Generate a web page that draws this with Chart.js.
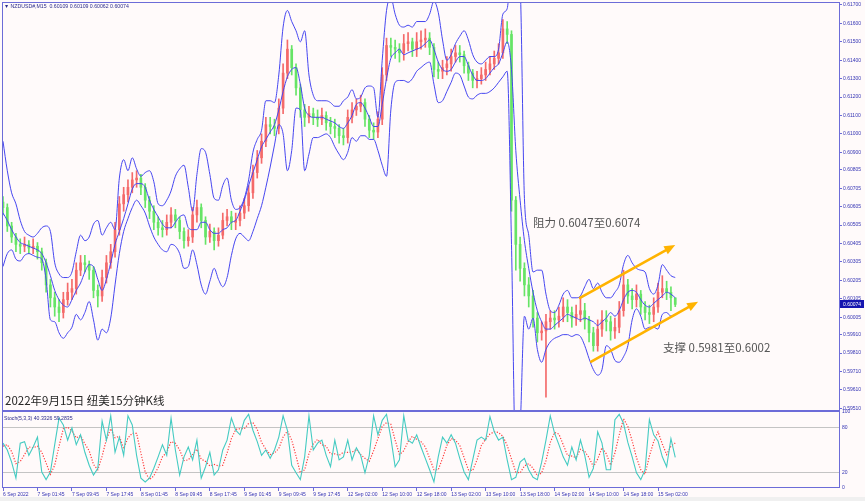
<!DOCTYPE html>
<html><head><meta charset="utf-8">
<script src="https://cdn.jsdelivr.net/npm/chart.js@4"></script>
<style>
html,body{margin:0;padding:0;background:#fffafa;}
#wrap{position:relative;width:865px;height:501px;overflow:hidden;background:#fffafa;}
canvas{position:absolute;left:0;}
#c1{top:0;}
#c2{top:403px;}
.t{position:absolute;white-space:nowrap;z-index:5;}
.hdr{font-family:"Liberation Sans",Arial,sans-serif;font-size:5.2px;line-height:6px;color:#2c2c8c;}
.cn{font-family:"Noto Sans CJK SC",sans-serif;font-size:11.5px;line-height:12px;}
#strip{position:absolute;left:0;top:497px;width:865px;height:4px;background:#f0f0f0;}
</style></head>
<body><div id="wrap">
<div id="strip"></div>
<canvas id="c1" width="865" height="411" style="width:865px;height:411px"></canvas>
<canvas id="c2" width="865" height="98" style="width:865px;height:98px"></canvas>
<div class="t hdr" style="left:4px;top:3px">▼ NZDUSD#,M15&nbsp; 0.60109 0.60109 0.60062 0.60074</div>
<div class="t hdr" style="left:4px;top:415px">Stoch(5,3,3) 40.3326 59.2835</div>
<div class="t cn" style="left:5px;top:394px;color:#262626">2022年9月15日 纽美15分钟K线</div>
<div class="t cn" style="left:533px;top:216px;color:#555">阻力 0.6047至0.6074</div>
<div class="t cn" style="left:663px;top:341px;color:#555">支撑 0.5981至0.6002</div>
</div>
<script>
// ---- data (hourly aggregation of the M15 chart) ----
const xTickLabels = ['6 Sep 2022','7 Sep 01:45','7 Sep 09:45','7 Sep 17:45','8 Sep 01:45','8 Sep 09:45','8 Sep 17:45','9 Sep 01:45','9 Sep 09:45','9 Sep 17:45','12 Sep 02:00','12 Sep 10:00','12 Sep 18:00','13 Sep 02:00','13 Sep 10:00','13 Sep 18:00','14 Sep 02:00','14 Sep 10:00','14 Sep 18:00','15 Sep 02:00'];
const yTickLabels = ['0.59510','0.59610','0.59710','0.59810','0.59910','0.60005','0.60105','0.60205','0.60305','0.60405','0.60505','0.60605','0.60705','0.60805','0.60900','0.61000','0.61100','0.61200','0.61300','0.61400','0.61500','0.61600','0.61700'];
const stochTickLabels = ['0','20','80','100'];
const firstOpen = 0.6063;
const closes = [
0.6060,0.6050,0.6044,0.6040,0.6039,0.6040,0.6038,0.6039,0.6036,0.6030,
0.6018,0.6011,0.6006,0.6003,0.6010,0.6014,0.6016,0.6026,0.6030,0.6029,
0.6026,0.6015,0.6012,0.6022,0.6030,0.6036,0.6048,0.6062,0.6067,0.6071,
0.6075,0.6076,0.6071,0.6064,0.6058,0.6052,0.6049,0.6048,0.6052,0.6056,
0.6053,0.6047,0.6042,0.6044,0.6056,0.6060,0.6053,0.6044,0.6047,0.6042,
0.6045,0.6053,0.6055,0.6052,0.6053,0.6057,0.6061,0.6068,0.6079,0.6087,
0.6096,0.6105,0.6104,0.6103,0.6114,0.6133,0.6146,0.6136,0.6125,0.6113,
0.6109,0.6111,0.6109,0.6108,0.6110,0.6106,0.6104,0.6103,0.6099,0.6098,
0.6109,0.6113,0.6115,0.6117,0.6108,0.6102,0.6101,0.6108,0.6132,0.6148,
0.6147,0.6146,0.6144,0.6149,0.6150,0.6146,0.6150,0.6151,0.6152,0.6147,
0.6135,0.6134,0.6136,0.6138,0.6142,0.6144,0.6143,0.6137,0.6133,0.6129,
0.6130,0.6132,0.6135,0.6138,0.6141,0.6144,0.6157,0.6154,0.6064,0.6040,
0.6027,0.6018,0.6012,0.6000,0.5992,0.5993,0.5998,0.6000,0.5999,0.6001,
0.6006,0.6003,0.6000,0.6002,0.6004,0.5999,0.5992,0.5985,0.5994,0.5999,
0.5998,0.5993,0.5995,0.6004,0.6018,0.6012,0.6010,0.6013,0.6006,0.6003,
0.6002,0.6006,0.6014,0.6016,0.6014,0.6011,0.60074];
const highs = [
0.6066,0.6062,0.6052,0.6046,0.6043,0.6044,0.6042,0.6043,0.6041,0.6038,
0.6032,0.6021,0.6014,0.6010,0.6014,0.6019,0.6021,0.6030,0.6034,0.6034,
0.6031,0.6028,0.6018,0.6026,0.6034,0.6040,0.6052,0.6066,0.6071,0.6075,
0.6079,0.6080,0.6078,0.6073,0.6066,0.6061,0.6055,0.6053,0.6056,0.6060,
0.6059,0.6055,0.6049,0.6048,0.6060,0.6064,0.6062,0.6055,0.6051,0.6049,
0.6049,0.6057,0.6059,0.6058,0.6057,0.6061,0.6065,0.6072,0.6083,0.6091,
0.6100,0.6109,0.6109,0.6108,0.6119,0.6138,0.6151,0.6148,0.6138,0.6127,
0.6116,0.6115,0.6114,0.6113,0.6114,0.6112,0.6109,0.6108,0.6105,0.6103,
0.6113,0.6117,0.6119,0.6121,0.6119,0.6110,0.6106,0.6112,0.6136,0.6152,
0.6152,0.6151,0.6149,0.6154,0.6155,0.6152,0.6155,0.6156,0.6157,0.6155,
0.6149,0.6139,0.6140,0.6142,0.6146,0.6148,0.6148,0.6145,0.6139,0.6135,
0.6134,0.6136,0.6139,0.6142,0.6145,0.6149,0.6162,0.6161,0.6156,0.6066,
0.6044,0.6030,0.6022,0.6015,0.6003,0.5998,0.6002,0.6004,0.6004,0.6006,
0.6011,0.6010,0.6006,0.6007,0.6011,0.6008,0.6001,0.5995,0.5999,0.6004,
0.6004,0.6001,0.6000,0.6009,0.6026,0.6021,0.6016,0.6018,0.6015,0.6009,
0.6007,0.6011,0.6019,0.6023,0.6020,0.6017,0.60109];
const lows = [
0.6056,0.6047,0.6041,0.6036,0.6035,0.6036,0.6035,0.6035,0.6032,0.6026,
0.6014,0.6006,0.6001,0.5998,0.6000,0.6007,0.6010,0.6013,0.6023,0.6025,
0.6021,0.6011,0.6006,0.6009,0.6019,0.6027,0.6033,0.6045,0.6058,0.6063,
0.6068,0.6071,0.6067,0.6060,0.6054,0.6048,0.6045,0.6044,0.6045,0.6049,
0.6049,0.6043,0.6038,0.6039,0.6041,0.6052,0.6049,0.6040,0.6041,0.6037,
0.6039,0.6043,0.6050,0.6048,0.6048,0.6050,0.6054,0.6058,0.6065,0.6076,
0.6084,0.6093,0.6100,0.6099,0.6100,0.6111,0.6130,0.6132,0.6121,0.6109,
0.6104,0.6106,0.6105,0.6104,0.6105,0.6102,0.6100,0.6098,0.6095,0.6094,
0.6095,0.6106,0.6110,0.6112,0.6104,0.6098,0.6097,0.6098,0.6105,0.6129,
0.6142,0.6141,0.6139,0.6140,0.6145,0.6142,0.6142,0.6146,0.6147,0.6143,
0.6131,0.6130,0.6130,0.6132,0.6134,0.6139,0.6139,0.6133,0.6129,0.6125,
0.6125,0.6127,0.6129,0.6132,0.6135,0.6138,0.6141,0.6149,0.6058,0.6026,
0.6020,0.6012,0.6006,0.5995,0.5987,0.5988,0.5957,0.5994,0.5994,0.5995,
0.5998,0.5998,0.5995,0.5996,0.5998,0.5994,0.5987,0.5982,0.5982,0.5990,
0.5993,0.5988,0.5989,0.5992,0.6001,0.6008,0.6005,0.6006,0.6002,0.5999,
0.5997,0.5998,0.6003,0.6011,0.6010,0.6004,0.60062];
const bandUpper = [
0.6096,0.6080,0.6068,0.6062,0.6053,0.6047,0.6045,0.6044,0.6046,0.6049,
0.6050,0.6047,0.6030,0.6024,0.6022,0.6022,0.6025,0.6036,0.6045,0.6042,
0.6044,0.6051,0.6053,0.6045,0.6049,0.6052,0.6048,0.6076,0.6086,0.6080,
0.6087,0.6081,0.6077,0.6079,0.6080,0.6074,0.6062,0.6061,0.6064,0.6069,
0.6077,0.6081,0.6083,0.6071,0.6058,0.6078,0.6092,0.6090,0.6078,0.6065,
0.6064,0.6072,0.6076,0.6064,0.6059,0.6060,0.6065,0.6075,0.6090,0.6097,
0.6102,0.6118,0.6118,0.6117,0.6132,0.6158,0.6167,0.6161,0.6156,0.6150,
0.6156,0.6132,0.6121,0.6118,0.6118,0.6118,0.6117,0.6115,0.6115,0.6118,
0.6120,0.6124,0.6119,0.6120,0.6125,0.6126,0.6125,0.6109,0.6140,0.6167,
0.6174,0.6165,0.6159,0.6158,0.6159,0.6158,0.6161,0.6161,0.6161,0.6165,
0.6172,0.6166,0.6151,0.6140,0.6143,0.6149,0.6153,0.6156,0.6151,0.6143,
0.6139,0.6138,0.6140,0.6142,0.6142,0.6146,0.6165,0.6168,0.6190,0.6190,
0.6180,0.6065,0.6045,0.6025,0.6026,0.6026,0.6013,0.6004,0.6003,0.6007,
0.6013,0.6015,0.6011,0.6011,0.6012,0.6017,0.6021,0.6016,0.6019,0.6014,
0.6011,0.6011,0.6014,0.6018,0.6029,0.6034,0.6030,0.6027,0.6026,0.6025,
0.6016,0.6013,0.6018,0.6029,0.6026,0.6023,0.6022];
const bandMiddle = [
0.6057,0.6053,0.6048,0.6044,0.6041,0.6040,0.6039,0.6038,0.6037,0.6035,
0.6030,0.6023,0.6015,0.6010,0.6007,0.6006,0.6010,0.6015,0.6019,0.6025,
0.6029,0.6028,0.6021,0.6015,0.6021,0.6030,0.6040,0.6047,0.6054,0.6062,
0.6070,0.6073,0.6073,0.6071,0.6064,0.6059,0.6055,0.6051,0.6049,0.6049,
0.6052,0.6055,0.6056,0.6049,0.6048,0.6048,0.6052,0.6052,0.6048,0.6046,
0.6046,0.6048,0.6049,0.6052,0.6053,0.6058,0.6064,0.6072,0.6079,0.6086,
0.6093,0.6097,0.6101,0.6105,0.6113,0.6123,0.6131,0.6135,0.6136,0.6127,
0.6114,0.6110,0.6109,0.6109,0.6109,0.6108,0.6107,0.6106,0.6104,0.6103,
0.6106,0.6110,0.6116,0.6117,0.6114,0.6109,0.6104,0.6104,0.6116,0.6130,
0.6141,0.6144,0.6146,0.6143,0.6144,0.6145,0.6146,0.6147,0.6149,0.6151,
0.6146,0.6139,0.6135,0.6134,0.6135,0.6139,0.6142,0.6142,0.6137,0.6132,
0.6129,0.6129,0.6130,0.6133,0.6136,0.6138,0.6144,0.6150,0.6135,0.6091,
0.6064,0.6042,0.6027,0.6014,0.6004,0.5998,0.5994,0.5994,0.5996,0.5998,
0.6000,0.6002,0.6001,0.6000,0.5999,0.6000,0.5999,0.5998,0.5996,0.5998,
0.6000,0.6003,0.6001,0.6004,0.6010,0.6014,0.6015,0.6014,0.6010,0.6007,
0.6006,0.6008,0.6010,0.6012,0.6014,0.6013,0.6011];
const bandLower = [
0.6028,0.6035,0.6037,0.6032,0.6031,0.6034,0.6035,0.6034,0.6033,0.6032,
0.6021,0.5999,0.5998,0.5992,0.5989,0.5992,0.5995,0.6002,0.5999,0.6003,
0.6009,0.5999,0.5988,0.5994,0.5992,0.6000,0.6018,0.6035,0.6047,0.6054,
0.6060,0.6064,0.6061,0.6057,0.6050,0.6044,0.6040,0.6037,0.6036,0.6040,
0.6039,0.6035,0.6027,0.6028,0.6037,0.6029,0.6018,0.6013,0.6020,0.6027,
0.6021,0.6017,0.6022,0.6034,0.6043,0.6046,0.6044,0.6042,0.6047,0.6054,
0.6061,0.6071,0.6082,0.6094,0.6105,0.6100,0.6080,0.6091,0.6114,0.6113,
0.6080,0.6089,0.6098,0.6098,0.6099,0.6100,0.6098,0.6093,0.6089,0.6086,
0.6090,0.6098,0.6096,0.6099,0.6099,0.6097,0.6097,0.6091,0.6083,0.6077,
0.6113,0.6128,0.6129,0.6129,0.6128,0.6130,0.6134,0.6136,0.6138,0.6139,
0.6127,0.6117,0.6118,0.6123,0.6128,0.6133,0.6132,0.6126,0.6120,0.6119,
0.6121,0.6122,0.6122,0.6123,0.6125,0.6128,0.6131,0.6134,0.6040,0.5920,
0.5940,0.6001,0.5994,0.6000,0.5983,0.5976,0.5983,0.5987,0.5989,0.5990,
0.5991,0.5991,0.5990,0.5991,0.5990,0.5985,0.5978,0.5972,0.5969,0.5972,
0.5985,0.5983,0.5977,0.5976,0.5979,0.5985,0.5999,0.6005,0.6001,0.5994,
0.5995,0.5995,0.5994,0.6002,0.6003,0.6001,0.6002];
const stochK = [
59,50,34,13,59,61,43,54,67,21,
11,21,57,92,83,63,79,57,70,47,
30,17,26,88,63,95,47,67,43,95,
83,43,13,8,13,26,41,57,43,92,
50,17,41,54,37,63,13,28,47,17,
24,50,63,92,76,70,89,97,76,61,
43,50,39,50,67,95,76,30,20,11,
41,95,50,59,63,43,28,63,37,41,
63,37,53,43,20,43,95,70,89,97,
66,28,37,95,63,59,70,54,39,24,
8,41,67,59,70,59,39,21,11,37,
63,67,63,94,74,63,67,37,11,14,
34,39,24,14,11,34,63,95,72,57,
41,30,54,37,63,43,14,26,74,59,
24,24,90,97,85,60,41,20,11,24,
90,70,62,41,28,65,40.3326];
const stochD = [
55,57,48,32,35,44,54,53,55,47,
33,18,30,55,78,80,75,66,69,58,
49,31,24,42,64,78,66,68,52,66,
72,72,46,21,11,16,27,41,47,61,
59,50,36,37,44,51,38,35,29,31,
29,30,46,65,77,78,78,85,86,77,
60,51,44,46,52,67,75,63,42,20,
24,45,58,64,57,55,45,45,43,47,
47,47,51,44,39,35,49,65,81,86,
84,63,44,49,61,68,64,61,54,39,
24,24,39,56,65,63,56,40,24,23,
37,56,64,71,74,73,68,56,38,21,
20,29,32,26,16,20,36,60,73,71,
57,43,42,40,51,48,40,28,38,53,
45,30,46,70,91,81,62,40,24,18,
42,61,74,58,44,55,59.2835];
// trend-channel arrows drawn by hand on the chart, in (bar index, price)
const trendArrows = [
  {from:[133.9,0.60110], to:[156.0,0.60397]},
  {from:[136.5,0.59763], to:[161.3,0.60089]}
];

// ---- build tables ----
const SLOTS = 195;            // hourly slots across the plot incl. right-hand shift
const TICK_EVERY = 8;
const categories = [];
for (let i = 0; i < SLOTS; i++) {
  const k = i / TICK_EVERY;
  categories.push(i % TICK_EVERY === 0 && k < xTickLabels.length ? xTickLabels[k] : '');
}
const opens = [firstOpen].concat(closes.slice(0, -1));
const UP = '#f46a6a', DOWN = '#66e466';
const candleColors = closes.map((c, i) => c >= opens[i] ? UP : DOWN);
const wickData = lows.map((l, i) => [l, highs[i]]);
const bodyData = closes.map((c, i) => [opens[i], c]);

const FRAME = '#6c6cd8';
const AXIS_TXT = '#3434b4';
const BAND = '#4646f0';
const tinyFont = {family: '"Liberation Sans", Arial, sans-serif', size: 5};

const framePlugin = {
  id: 'frame',
  afterDraw(chart) {
    const {ctx, chartArea: a} = chart;
    ctx.save();
    ctx.strokeStyle = FRAME; ctx.lineWidth = 1;
    ctx.strokeRect(a.left - 0.5, a.top - 0.5, a.right - a.left + 1, a.bottom - a.top);
    ctx.restore();
  }
};
const arrowPlugin = {
  id: 'arrows',
  afterDatasetsDraw(chart) {
    const {ctx, scales: {x, y}} = chart;
    ctx.save();
    ctx.strokeStyle = '#ffb300'; ctx.fillStyle = '#ffb300';
    ctx.lineWidth = 2.6; ctx.lineCap = 'round';
    trendArrows.forEach(a => {
      const x1 = x.getPixelForValue(a.from[0]), y1 = y.getPixelForValue(a.from[1]);
      const x2 = x.getPixelForValue(a.to[0]), y2 = y.getPixelForValue(a.to[1]);
      const ang = Math.atan2(y2 - y1, x2 - x1);
      const L = 11, W = 4.5;
      const bx = x2 - L * Math.cos(ang), by = y2 - L * Math.sin(ang);
      ctx.beginPath(); ctx.moveTo(x1, y1); ctx.lineTo(bx, by); ctx.stroke();
      ctx.beginPath();
      ctx.moveTo(x2, y2);
      ctx.lineTo(bx + W * Math.sin(ang), by - W * Math.cos(ang));
      ctx.lineTo(bx - W * Math.sin(ang), by + W * Math.cos(ang));
      ctx.closePath(); ctx.fill();
    });
    ctx.restore();
  }
};
const lastPricePlugin = {
  id: 'lastPrice',
  afterDraw(chart) {
    const {ctx, scales: {y}} = chart;
    const v = closes[closes.length - 1];
    const py = Math.round(y.getPixelForValue(v));
    ctx.save();
    ctx.fillStyle = '#1616b0';
    ctx.fillRect(y.left + 1, py - 4, 24, 8);
    ctx.fillStyle = '#ffffff';
    ctx.font = '5px "Liberation Sans", Arial, sans-serif';
    ctx.textBaseline = 'middle';
    ctx.fillText(v.toFixed(5), y.left + 4, py + 0.5);
    ctx.restore();
  }
};

new Chart(document.getElementById('c1'), {
  type: 'bar',
  data: {
    labels: categories,
    datasets: [
      {type:'line', data: bandUpper, borderColor: BAND, borderWidth: 1, pointRadius: 0, cubicInterpolationMode: 'monotone', order: 0},
      {type:'line', data: bandMiddle, borderColor: BAND, borderWidth: 1, pointRadius: 0, cubicInterpolationMode: 'monotone', order: 0},
      {type:'line', data: bandLower, borderColor: BAND, borderWidth: 1, pointRadius: 0, cubicInterpolationMode: 'monotone', order: 0},
      {data: bodyData, backgroundColor: candleColors, barThickness: 2, minBarLength: 1, grouped: false, order: 1},
      {data: wickData, backgroundColor: candleColors, barThickness: 1, grouped: false, order: 2}
    ]
  },
  options: {
    responsive: false, animation: false, events: [],
    layout: {padding: {left: 3, top: 3, right: 0, bottom: 0}},
    plugins: {legend: {display: false}, tooltip: {enabled: false}},
    scales: {
      x: {type: 'category', offset: false, display: false},
      y: {
        type: 'linear', position: 'right', min: 0.594953, max: 0.617107,
        afterBuildTicks: s => { s.ticks = yTickLabels.map(t => ({value: parseFloat(t)})); },
        afterFit: s => { s.width = 26; s.paddingTop = 0; s.paddingBottom = 0; },
        ticks: {font: tinyFont, color: AXIS_TXT, padding: 1, autoSkip: false, callback: v => v.toFixed(5)},
        grid: {drawOnChartArea: false, drawTicks: true, tickLength: 3, color: FRAME},
        border: {display: false}
      }
    }
  },
  plugins: [framePlugin, arrowPlugin, lastPricePlugin]
});

new Chart(document.getElementById('c2'), {
  type: 'line',
  data: {
    labels: categories,
    datasets: [
      {data: stochK, borderColor: '#45cbc2', borderWidth: 1.1, pointRadius: 0, tension: 0},
      {data: stochD, borderColor: '#ff3c3c', borderWidth: 1.2, borderDash: [1.2, 1.6], pointRadius: 0, tension: 0}
    ]
  },
  options: {
    responsive: false, animation: false, events: [],
    layout: {padding: {left: 3, top: 9, right: 0, bottom: 0}},
    plugins: {legend: {display: false}, tooltip: {enabled: false}},
    scales: {
      x: {
        type: 'category', offset: false,
        afterBuildTicks: s => { s.ticks = s.ticks.filter(t => categories[t.value] !== ''); },
        afterFit: s => { s.height = 13; s.paddingLeft = 0; s.paddingRight = 0; },
        ticks: {font: tinyFont, color: AXIS_TXT, align: 'start', autoSkip: false, maxRotation: 0, padding: 1},
        grid: {drawOnChartArea: false, drawTicks: true, tickLength: 3, color: FRAME, offset: false},
        border: {display: false}
      },
      y: {
        type: 'linear', position: 'right', min: 0, max: 100,
        afterBuildTicks: s => { s.ticks = stochTickLabels.map(t => ({value: Number(t)})); },
        afterFit: s => { s.width = 26; s.paddingTop = 0; s.paddingBottom = 0; },
        ticks: {font: tinyFont, color: AXIS_TXT, padding: 3, autoSkip: false, callback: v => String(v)},
        grid: {drawTicks: false, color: c => (c.tick && (c.tick.value === 20 || c.tick.value === 80)) ? '#c4c4c4' : 'rgba(0,0,0,0)', borderDash: [1, 2]},
        border: {display: false}
      }
    }
  },
  plugins: [framePlugin]
});
</script>
</body></html>
